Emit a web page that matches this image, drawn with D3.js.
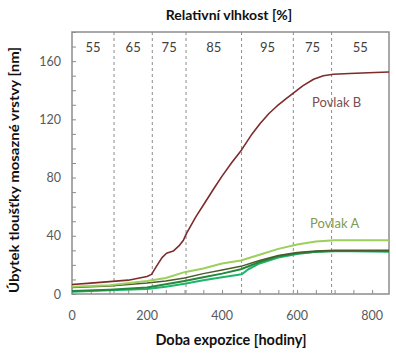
<!DOCTYPE html>
<html><head><meta charset="utf-8">
<script src="https://cdn.jsdelivr.net/npm/d3@7"></script>
<style>body{margin:0;background:#fff}svg{display:block}text{font-family:Lato,"Open Sans",sans-serif}</style>
</head><body><svg id="c" width="396" height="356"></svg>
<script>
// ---- data ----
const humidityLabels = ["55","65","75","85","95","75","55"];
const phaseBounds = [0,112,214,304,452,590,692,845];
const xTicks = [0,200,400,600,800];
const yTicks = [0,40,80,120,160];
const seriesB = [[0,6.5],[50,7.5],[100,8.5],[150,9.5],[200,12],[212,13.5],[225,19],[240,25],[252,28],[270,29.5],[285,33],[297,37],[306,42],[330,53],[355,63],[377,72],[400,81],[425,90],[452,99],[480,110],[501,117],[525,124],[546,129],[570,134],[590,138],[615,143],[644,147.5],[670,150],[697,151],[740,151.5],[790,152],[845,152.5]];
const seriesA = [[0,5],[100,6],[200,9],[250,11],[300,15],[350,17.5],[400,21],[450,23],[500,27],[550,31],[600,34],[650,36],[700,37],[750,37],[800,37],[845,37]];
const seriesOlive = [[0,4.5],[100,5.5],[200,7.5],[250,9],[300,11],[350,14],[400,16.5],[450,19],[500,23],[550,26.5],[600,28.5],[650,29.5],[700,30],[845,30]];
const seriesDark = [[0,2],[100,3],[200,4.5],[300,9],[350,11.5],[400,14],[450,17],[500,22],[550,26],[600,28],[650,29],[700,29.5],[845,29.5]];
const seriesTeal = [[0,1.5],[100,2.5],[200,3.5],[250,5],[300,7],[350,9.5],[400,11.5],[440,13],[452,13.5],[470,17],[500,21],[550,25],[600,27.5],[650,29],[700,29.5],[845,29]];

const svg = d3.select("#c");
const L=72,R=389,T=32,B=294;
const x = d3.scaleLinear().domain([0,845]).range([L,R]);
const y = d3.scaleLinear().domain([0,180]).range([B,T]);

// frame
svg.append("rect").attr("x",L).attr("y",T).attr("width",R-L).attr("height",B-T)
  .attr("fill","none").attr("stroke","#8c8c8c").attr("stroke-width",1.5);

// axes ticks (inside)
const gx = svg.append("g").attr("transform",`translate(0,${B})`)
  .call(d3.axisBottom(x).tickValues(d3.range(0,846,50)).tickSize(-4).tickFormat(""));
const gy = svg.append("g").attr("transform",`translate(${L},0)`)
  .call(d3.axisLeft(y).tickValues(d3.range(0,181,10)).tickSize(-4).tickFormat(""));
[gx,gy].forEach(g=>{g.select(".domain").remove();g.selectAll("line").attr("stroke","#8c8c8c");});

// tick labels
svg.append("g").selectAll("text").data(xTicks).join("text")
  .attr("x",d=>x(d)).attr("y",320).attr("text-anchor","middle")
  .attr("font-size",12.5).attr("fill","#595959").text(d=>d);
svg.append("g").selectAll("text").data(yTicks).join("text")
  .attr("x",61).attr("y",d=>y(d)+4.5).attr("text-anchor","end")
  .attr("font-size",12.5).attr("fill","#595959").text(d=>d);

// dashed phase lines
svg.append("g").selectAll("line").data(phaseBounds.slice(1,-1)).join("line")
  .attr("x1",d=>x(d)).attr("x2",d=>x(d)).attr("y1",T).attr("y2",B)
  .attr("stroke","#8c8c8c").attr("stroke-dasharray","3,3").attr("stroke-width",1);

// humidity labels
svg.append("g").selectAll("text").data(humidityLabels).join("text")
  .attr("x",(d,i)=>x((phaseBounds[i]+phaseBounds[i+1])/2)).attr("y",52)
  .attr("text-anchor","middle").attr("font-size",13).attr("fill","#404040").text(d=>d);

// lines
const line = d3.line().x(d=>x(d[0])).y(d=>y(d[1]));
const draw=(data,col,w)=>svg.append("path").datum(data).attr("d",line)
  .attr("fill","none").attr("stroke",col).attr("stroke-width",w).attr("stroke-linejoin","round");
draw(seriesTeal,"#1fb36b",2);
draw(seriesDark,"#23873c",2);
draw(seriesOlive,"#4d5a2c",1.5);
draw(seriesA,"#9ccf5c",2);
draw(seriesB,"#7d2b2b",1.6);

// series labels
svg.append("text").attr("x",312).attr("y",107).attr("font-size",13).attr("fill","#7a4e4e").text("Povlak B");
svg.append("text").attr("x",310).attr("y",228).attr("font-size",13).attr("fill","#7f9a52").text("Povlak A");

// titles
svg.append("text").attr("x",229).attr("y",20).attr("text-anchor","middle")
  .attr("font-size",14).attr("font-weight","bold").attr("fill","#111").text("Relativní vlhkost [%]");
svg.append("text").attr("x",231).attr("y",345).attr("text-anchor","middle")
  .attr("font-size",14.5).attr("font-weight","bold").attr("fill","#111").text("Doba expozice  [hodiny]");
svg.append("text").attr("transform","translate(19,170) rotate(-90)").attr("text-anchor","middle")
  .attr("font-size",13).attr("font-weight","bold").attr("fill","#111")
  .attr("textLength",246).attr("lengthAdjust","spacingAndGlyphs")
  .text("Úbytek tloušťky mosazné vrstvy [nm]");
</script></body></html>
